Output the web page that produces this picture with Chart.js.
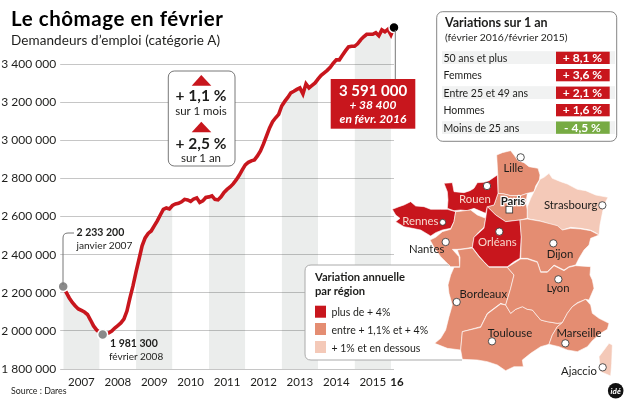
<!DOCTYPE html>
<html lang="fr">
<head>
<meta charset="utf-8">
<title>Le chômage en février</title>
<script src="https://cdn.jsdelivr.net/npm/chart.js@4"></script>
<style>
  html, body { margin: 0; padding: 0; background: #fff; }
  #wrap { position: relative; width: 628px; height: 403px; overflow: hidden; font-family: Lato, sans-serif; }
  #chart { position: absolute; left: 0; top: 0; }
  #overlay { position: absolute; left: 0; top: 0; }
  #overlay text { font-family: Lato, sans-serif; fill: #1d1d1b; }
  #overlay .b { font-weight: 700; }
  #overlay .w { fill: #fff; }
  #overlay .m { text-anchor: middle; }
  #map polygon { stroke: #fff; stroke-width: 1.8; stroke-linejoin: round; }
  #map circle { fill: #fff; stroke: #333; stroke-width: 2.5; }
  #map text { font-size: 34px; text-anchor: middle; dominant-baseline: central; }
</style>
</head>
<body>
<div id="wrap">
  <canvas id="chart" width="628" height="403"></canvas>
  <svg id="overlay" width="628" height="403" viewBox="0 0 628 403">
    <text class="b" x="11" y="26" font-size="20.5" textLength="212" style="fill:#000">Le chômage en février</text>
    <text x="11" y="44.7" font-size="13.5" textLength="209">Demandeurs d’emploi (catégorie A)</text>
    <text x="11" y="394.3" font-size="8.8">Source : Dares</text>

    <path d="M63 285V238q0-5 5-5h6" fill="none" stroke="#777" stroke-width="1"/>
    <text class="b" x="76.5" y="236" font-size="10.5">2 233 200</text>
    <text x="76.5" y="248.7" font-size="10.2">janvier 2007</text>
    <text class="b" x="110" y="347.3" font-size="10.5">1 981 300</text>
    <text x="109" y="360" font-size="10">février 2008</text>

    <rect x="168.3" y="71" width="66.7" height="95" rx="6" fill="#fff" stroke="#555" stroke-width=".8"/>
    <polygon points="191.7,85.7 201.3,75 211.3,85.7" fill="#c8161d"/>
    <text class="b m" x="201" y="101" font-size="15.5">+ 1,1 %</text>
    <text class="m" x="201" y="114.5" font-size="11.5">sur 1 mois</text>
    <polygon points="191.7,132.3 201.3,121.7 211.3,132.3" fill="#c8161d"/>
    <text class="b m" x="201" y="148.5" font-size="15.5">+ 2,5 %</text>
    <text class="m" x="201" y="162" font-size="11.5">sur 1 an</text>

    <line x1="395.3" y1="30" x2="395.3" y2="80" stroke="#777" stroke-width="1"/>
    <rect x="330.7" y="79" width="84.6" height="49.7" fill="#c8161d"/>
    <text class="b m w" x="373" y="95.7" font-size="15">3 591 000</text>
    <text class="b m w" x="373" y="109.3" font-size="12" font-style="italic">+ 38 400</text>
    <text class="b m w" x="373" y="123.3" font-size="12" font-style="italic">en févr. 2016</text>

    <rect x="436.7" y="11.7" width="180" height="129.6" rx="6" fill="#fff" stroke="#666" stroke-width=".8"/>
    <text class="b" x="445" y="26.5" font-size="12.5">Variations sur 1 an</text>
    <text x="445" y="40.5" font-size="10.4">(février 2016/février 2015)</text>
    <rect x="442" y="51.2" width="173" height="12.8" fill="#f1f2f2"/>
    <rect x="442" y="86.2" width="173" height="12.8" fill="#f1f2f2"/>
    <rect x="442" y="121.2" width="173" height="12.8" fill="#f1f2f2"/>
    <rect x="556" y="51.7" width="53.7" height="12.3" fill="#c8161d"/>
    <rect x="556" y="69" width="53.7" height="12.3" fill="#c8161d"/>
    <rect x="556" y="86.6" width="53.7" height="12.3" fill="#c8161d"/>
    <rect x="556" y="104" width="53.7" height="12.3" fill="#c8161d"/>
    <rect x="556" y="121.5" width="53.7" height="12.3" fill="#77ab43"/>
    <text x="443.5" y="61.7" font-size="10.5">50 ans et plus</text>
    <text x="443.5" y="79.1" font-size="10.5">Femmes</text>
    <text x="443.5" y="96.7" font-size="10.5">Entre 25 et 49 ans</text>
    <text x="443.5" y="114.1" font-size="10.5">Hommes</text>
    <text x="443.5" y="131.5" font-size="10.5">Moins de 25 ans</text>
    <text class="b m w" x="582.5" y="62" font-size="12">+ 8,1 %</text>
    <text class="b m w" x="582.5" y="79.4" font-size="12">+ 3,6 %</text>
    <text class="b m w" x="582.5" y="97" font-size="12">+ 2,1 %</text>
    <text class="b m w" x="582.5" y="114.4" font-size="12">+ 1,6 %</text>
    <text class="b m w" x="582.5" y="131.8" font-size="12">- 4,5 %</text>

    <path d="M462 265H311q-6 0-6 6v83q0 6 6 6H462" fill="#fff" stroke="#aaa" stroke-width="1"/>
    <text class="b" x="315" y="280.7" font-size="11.2">Variation annuelle</text>
    <text class="b" x="315" y="295" font-size="11.2">par région</text>
    <rect x="315" y="305.7" width="11" height="12" fill="#c8161d"/>
    <rect x="315" y="323" width="11" height="12" fill="#e48d72"/>
    <rect x="315" y="341" width="11" height="12" fill="#f4c9b8"/>
    <text x="331.5" y="316" font-size="10.5">plus de + 4%</text>
    <text x="331.5" y="334" font-size="10.5">entre + 1,1% et + 4%</text>
    <text x="331.5" y="351.5" font-size="10.5">+ 1% et en dessous</text>

    <!-- fond de carte décoratif, pas de données -->
    <g id="map" transform="translate(314 150) scale(.33333)">
      <polygon fill="#e48d72" points="548,15 565,8 590,2 600,15 612,32 630,38 645,50 672,55 678,75 676,90 665,108 660,125 640,130 620,137 590,137 570,132 552,130 552,85"/>
      <polygon fill="#e48d72" points="552,130 570,132 590,137 620,137 640,130 636,158 640,180 640,205 618,210 575,215 545,195 520,170 540,165"/>
      <polygon fill="#f4c9b8" points="678,88 690,82 705,70 715,85 740,95 760,102 790,118 815,122 845,135 882,142 870,165 865,190 858,225 855,255 845,248 828,240 800,235 770,232 745,240 720,230 695,218 675,212 650,208 640,205 640,170 650,145 660,125"/>
      <polygon fill="#c8161d" points="390,100 415,98 420,125 450,128 468,122 480,115 490,98 510,97 525,92 550,75 552,130 540,165 520,170 515,190 480,175 460,182 440,180 420,182 400,175 402,150 400,125"/>
      <polygon fill="#c8161d" points="235,178 255,170 270,165 290,155 305,168 330,170 350,178 380,178 400,178 425,185 420,215 410,235 385,240 365,248 350,258 320,240 295,235 270,230 245,215 258,205 245,195"/>
      <polygon fill="#e48d72" points="425,185 445,183 470,180 490,195 515,205 510,232 495,245 480,262 475,292 450,296 430,298 415,298 435,320 437,350 410,350 395,335 380,320 362,295 348,270 365,262 385,245 410,238 420,215"/>
      <polygon fill="#c8161d" points="520,170 545,195 575,215 618,210 622,260 618,325 600,335 580,350 525,350 510,335 495,318 475,292 480,262 510,235 515,205"/>
      <polygon fill="#e48d72" points="618,210 640,207 680,214 730,227 745,240 770,235 800,237 830,242 855,255 830,265 825,285 810,300 795,325 785,345 765,350 750,360 720,345 700,365 680,365 670,335 640,325 620,325 622,262"/>
      <polygon fill="#e48d72" points="430,300 475,294 495,320 525,352 580,352 600,375 590,415 575,465 560,460 520,490 510,510 500,530 445,545 440,600 400,595 362,580 380,565 395,540 405,500 415,465 405,430 402,405 410,375 420,352 437,352 438,322"/>
      <polygon fill="#e48d72" points="445,545 500,532 520,492 560,462 575,465 590,490 605,478 625,470 640,478 655,480 670,498 680,510 700,515 730,520 745,518 730,530 715,555 705,583 680,590 650,610 625,630 628,650 600,650 575,662 550,645 520,635 490,630 445,628 440,600"/>
      <polygon fill="#e48d72" points="580,352 620,327 640,327 670,337 680,367 700,367 720,347 750,362 765,352 785,347 830,350 828,375 835,390 840,415 825,450 815,448 790,458 775,470 760,490 745,518 730,520 700,515 680,510 670,498 655,480 640,478 625,470 605,478 590,490 575,465 590,415 600,375"/>
      <polygon fill="#e48d72" points="815,448 830,465 835,490 855,505 885,520 880,538 860,550 835,572 820,590 790,605 760,600 735,590 705,583 715,555 730,530 745,518 760,490 775,470 790,460"/>
      <polygon fill="#f4c9b8" points="885,580 895,585 893,640 890,678 860,665 855,620"/>
      <circle cx="620" cy="22" r="11"/><circle cx="519" cy="108" r="11"/><circle cx="865" cy="166" r="11"/>
      <circle cx="386" cy="217" r="9"/><circle cx="556" cy="245" r="11"/><circle cx="395" cy="276" r="11"/>
      <circle cx="718" cy="280" r="11"/><circle cx="733" cy="388" r="11"/><circle cx="428" cy="456" r="11"/>
      <circle cx="534" cy="574" r="11"/><circle cx="754" cy="580" r="11"/><circle cx="866" cy="652" r="11"/>
      <rect x="576" y="169" width="20" height="20" fill="#fff" stroke="#333" stroke-width="2.5"/>
      <text x="598" y="52">Lille</text>
      <text x="483" y="145" style="fill:#f6d8cc">Rouen</text>
      <text x="597" y="152" class="b" style="paint-order:stroke;stroke:#fff;stroke-width:7">Paris</text>
      <text x="770" y="163">Strasbourg</text>
      <text x="319" y="212" style="fill:#f6d8cc">Rennes</text>
      <text x="550" y="276" style="fill:#f6d8cc">Orléans</text>
      <text x="338" y="296">Nantes</text>
      <text x="738" y="311">Dijon</text>
      <text x="732" y="414">Lyon</text>
      <text x="508" y="431">Bordeaux</text>
      <text x="588" y="547">Toulouse</text>
      <text x="795" y="548">Marseille</text>
      <text x="795" y="662">Ajaccio</text>
    </g>

    <circle cx="615.7" cy="390.7" r="7.8" fill="#111"/>
    <text class="b m w" x="615.7" y="393.5" font-size="8" font-style="italic">idé</text>
  </svg>
</div>

<script>
'use strict';

// Demandeurs d'emploi, catégorie A, un point par mois de janvier 2007 à février 2016
const demandeurs = [
  2233200, 2201500, 2172700, 2149000, 2130700, 2115000, 2107000, 2099000, 2086000, 2057000, 2026000, 2005000,
  1991600, 1981300, 1983700, 1989000, 1999500, 2015000, 2028000, 2041500, 2062000, 2104000, 2173000, 2236000,
  2309000, 2377000, 2446000, 2488000, 2511000, 2524000, 2551000, 2577000, 2608000, 2637000, 2645000, 2640000,
  2658000, 2666000, 2669000, 2677000, 2690000, 2687000, 2679000, 2692000, 2698000, 2674000, 2682000, 2700000,
  2703000, 2708000, 2690000, 2687000, 2703000, 2726000, 2742000, 2755000, 2771000, 2792000, 2816000, 2845000,
  2871000, 2884000, 2892000, 2897000, 2918000, 2944000, 2981000, 3023000, 3065000, 3097000, 3118000, 3136000,
  3180000, 3204000, 3225000, 3249000, 3257000, 3267000, 3275000, 3243000, 3296000, 3275000, 3288000, 3301000,
  3322000, 3341000, 3354000, 3367000, 3383000, 3404000, 3422000, 3422000, 3446000, 3469000, 3490000, 3493000,
  3493000, 3506000, 3527000, 3543000, 3556000, 3556000, 3556000, 3564000, 3548000, 3579000, 3569000, 3582000,
  3552600, 3591000
];
const anneeLabels = ['2007', '2008', '2009', '2010', '2011', '2012', '2013', '2014', '2015', '16'];
const anneeMois = [6, 18, 30, 42, 54, 66, 78, 90, 102, 110];
const yTicks = [1800000, 2000000, 2200000, 2400000, 2600000, 2800000, 3000000, 3200000, 3400000, 3600000];
const pointsCles = [0, 13, 109];
const pointsClesCouleurs = ['#8a8a8a', '#8a8a8a', '#000000'];

const ROUGE = '#c8161d';
const GRILLE = '#c6c6c6';

function formatMillier(v) {
  return String(v).replace(/\B(?=(\d{3})+$)/g, ' ');
}

// Aire grise sous la courbe, une année sur deux
const bandes = demandeurs.map((v, m) => (Math.floor(m / 12) % 2 === 0 || m % 12 === 0) ? v : null);
const serie = demandeurs.map((v, m) => ({ x: m, y: v }));

new Chart(document.getElementById('chart'), {
  type: 'line',
  data: {
    datasets: [
      {
        data: pointsCles.map(m => ({ x: m, y: demandeurs[m] })),
        showLine: false,
        clip: false,
        pointRadius: 5,
        pointBorderWidth: 1.5,
        pointBorderColor: '#ffffff',
        pointBackgroundColor: pointsClesCouleurs
      },
      {
        data: serie,
        borderColor: ROUGE,
        borderWidth: 3.6,
        pointRadius: 0,
        tension: 0
      },
      {
        data: bandes.map((v, m) => ({ x: m, y: v })),
        borderWidth: 0,
        pointRadius: 0,
        fill: 'origin',
        backgroundColor: 'rgba(30, 50, 40, 0.09)',
        spanGaps: false
      }
    ]
  },
  options: {
    responsive: false,
    animation: false,
    layout: { padding: { top: 25.9, right: 234, left: 0, bottom: 0 } },
    plugins: { legend: { display: false }, tooltip: { enabled: false }, title: { display: false } },
    scales: {
      x: {
        type: 'linear',
        min: 0,
        max: 109,
        grid: { display: false, drawTicks: false },
        border: { display: false },
        afterBuildTicks: axis => { axis.ticks = anneeMois.map(value => ({ value })); },
        afterFit: axis => { axis.height = 34; },
        ticks: {
          autoSkip: false,
          maxRotation: 0,
          padding: 6,
          color: '#1d1d1b',
          font: ctx => ({ family: 'Lato', size: 11.5, weight: ctx.index === 9 ? '700' : '400' }),
          callback: (value, i) => anneeLabels[i]
        }
      },
      y: {
        min: 1800000,
        max: 3600000,
        afterBuildTicks: axis => { axis.ticks = yTicks.map(value => ({ value })); },
        afterFit: axis => { axis.width = 63.2; },
        border: { display: false },
        grid: {
          color: ctx => (ctx.tick && ctx.tick.value === 3600000) ? 'rgba(0,0,0,0)' : GRILLE,
          lineWidth: 1,
          tickLength: 3
        },
        ticks: {
          padding: 4,
          color: '#1d1d1b',
          font: { family: 'Lato', size: 12 },
          callback: v => v === 3600000 ? '' : formatMillier(v)
        }
      }
    }
  }
});
</script>
</body>
</html>
